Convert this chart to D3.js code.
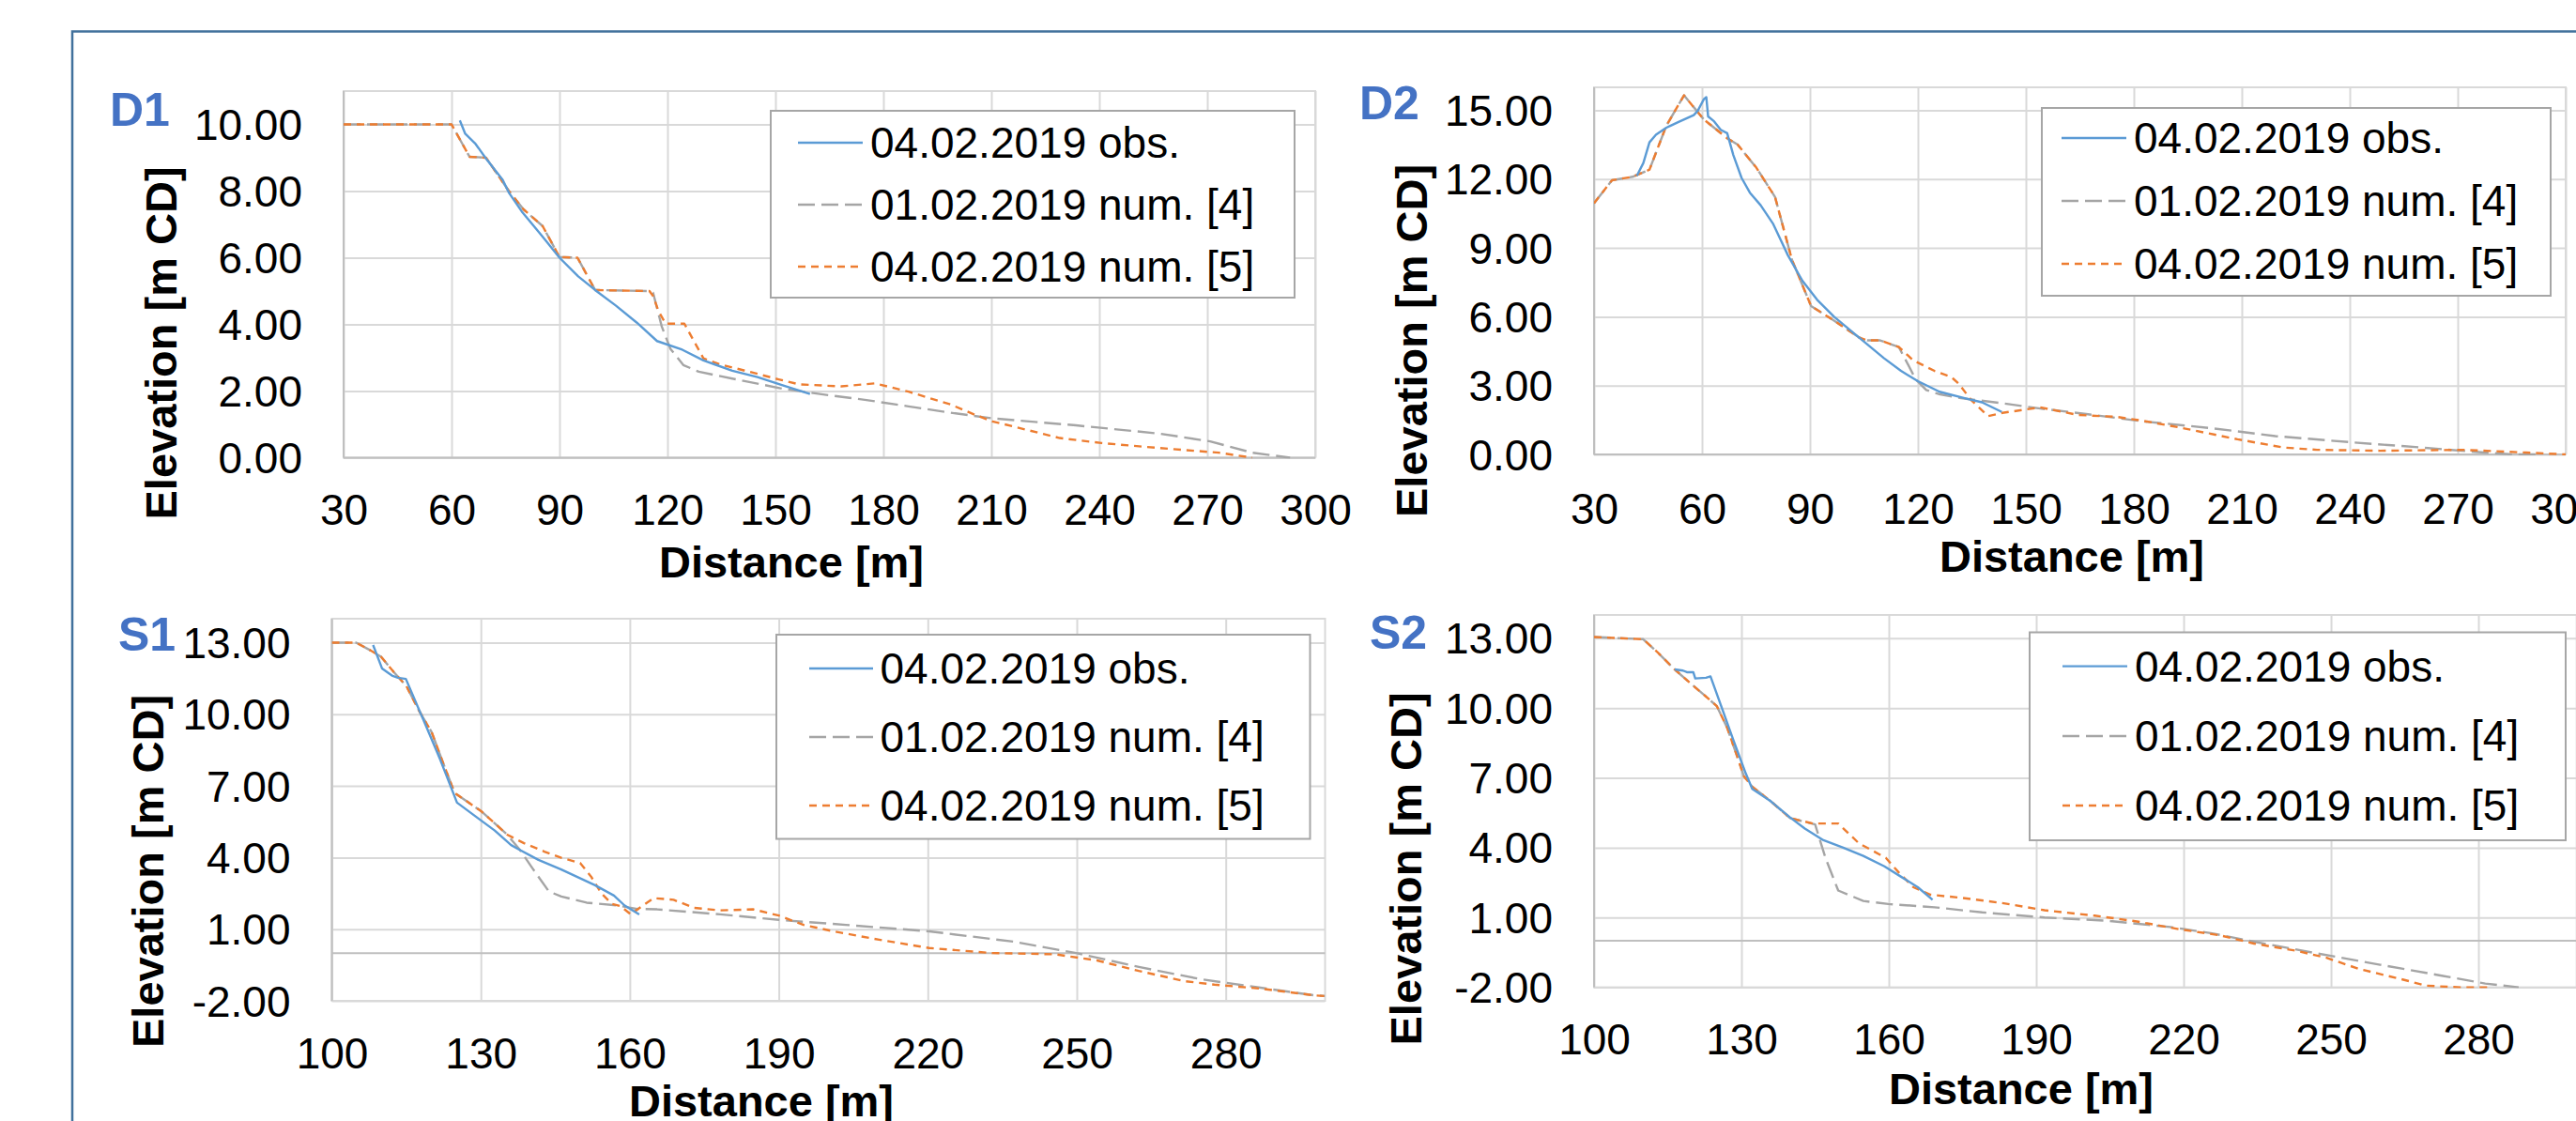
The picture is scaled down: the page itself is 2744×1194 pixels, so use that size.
<!DOCTYPE html>
<html>
<head>
<meta charset="utf-8">
<script src="https://cdn.jsdelivr.net/npm/d3@7"></script>
<style>
  body { margin: 0; background: #fff; }
  svg { display: block; font-family: Arial, 'Liberation Sans', sans-serif; }
</style>
</head>
<body>
<div id="chart"></div>
<script>
// series names (legend)
const seriesNames = ['04.02.2019 obs.', '01.02.2019 num. [4]', '04.02.2019 num. [5]']

// D1 profile  [distance m, elevation m CD]
const d1Obs = [[62.3,10.12],[63.8,9.72],[66.7,9.41],[69.6,8.97],[74.2,8.34],[76,7.94],[79.5,7.39],[84.8,6.7],[90,6.0],[95.2,5.44],[99.9,5.03],[105.7,4.56],[111.5,4.05],[117.1,3.5],[124.1,3.24],[130,2.92],[138,2.61],[145,2.42],[152,2.17],[159.6,1.91]]
const d1Num4 = [[30,10],[60,10],[65,9.03],[69.6,9.0],[75.8,8.02],[80,7.45],[85.3,6.95],[90,6.02],[95,6.0],[99.9,5.03],[115,5.0],[116,4.95],[118.4,3.94],[120.8,3.27],[124.4,2.78],[128.7,2.58],[140.4,2.32],[152,2.07],[163.7,1.89],[175.3,1.73],[187,1.54],[198.6,1.35],[210.3,1.18],[233.5,0.97],[256.9,0.72],[270.8,0.49],[282.5,0.15],[293,0]]
const d1Num5 = [[30,10],[60,10],[65,9.03],[69.6,9.0],[75.8,8.02],[80,7.45],[85.3,6.95],[90,6.02],[95,6.0],[99.9,5.03],[115,5.0],[116,4.85],[117.5,4.4],[119.5,4.02],[124.7,4.02],[130,2.98],[134.6,2.8],[142.7,2.58],[150.9,2.35],[156.6,2.2],[168.3,2.14],[177.7,2.23],[187,1.98],[198.6,1.6],[205.6,1.28],[210.3,1.09],[219.7,0.84],[229,0.59],[240.6,0.44],[252.3,0.33],[268.5,0.19],[273.2,0.15],[282.5,0]]

// D2 profile
const d2Obs = [[41.9,12.14],[43.7,12.7],[45.4,13.6],[47.2,13.93],[50.1,14.24],[53.5,14.49],[57.7,14.79],[58.8,14.97],[60.5,15.48],[61.2,15.57],[61.7,14.73],[63.4,14.51],[65.2,14.15],[67,14.0],[68.7,13.05],[71,12.05],[73.3,11.41],[76.3,10.86],[79.8,10.04],[83.9,8.67],[87.9,7.57],[92,6.74],[96.7,6.0],[103.6,5.1],[110.6,4.19],[115.3,3.64],[120,3.19],[126,2.73],[133,2.45],[137.8,2.27],[143.3,1.85]]
const d2Num4 = [[30,10.95],[35,11.95],[40.7,12.1],[45.4,12.41],[50.1,14.33],[55,15.65],[60.5,14.6],[67,13.78],[69.9,13.5],[75.1,12.5],[80.3,11.22],[85,8.48],[87.9,7.38],[90.3,6.47],[96.7,5.83],[103.6,5.1],[105.9,4.97],[109.5,4.97],[114.7,4.68],[119.4,3.27],[122.3,2.81],[125.8,2.63],[132,2.45],[143.5,2.23],[154,2.0],[166.8,1.76],[182,1.45],[201.8,1.14],[219.3,0.8],[240.3,0.53],[260,0.3],[277.5,0.08],[285.7,0],[292,0]]
const d2Num5 = [[30,10.95],[35,11.95],[40.7,12.1],[45.4,12.41],[50.1,14.33],[55,15.65],[60.5,14.6],[67,13.78],[69.9,13.5],[75.1,12.5],[80.3,11.22],[85,8.48],[87.9,7.38],[90.3,6.47],[96.7,5.83],[103.6,5.1],[105.9,4.97],[109.5,4.97],[114.7,4.68],[118.7,4.1],[124.6,3.64],[129.3,3.37],[131.3,3.09],[134.8,2.37],[139.5,1.67],[143.5,1.81],[154,2.05],[164.5,1.72],[175,1.64],[182,1.48],[192.5,1.18],[208.8,0.66],[221.6,0.3],[230.9,0.2],[248.4,0.16],[271.6,0.2],[289,0.08],[300,0]]

// S1 profile
const s1Obs = [[108.3,12.9],[110.1,11.92],[112.1,11.62],[113.3,11.53],[114.9,11.48],[118.4,9.78],[121.8,8.11],[125.2,6.3],[129.4,5.65],[132.8,5.13],[136.1,4.52],[137.4,4.37],[141.6,3.9],[146.2,3.5],[153,2.84],[156.8,2.41],[158.9,2.0],[161.9,1.62]]
const s1Num4 = [[100,13],[104.9,13],[107.8,12.67],[109.9,12.41],[112.5,11.76],[115,11.18],[117.6,10.13],[120.1,9.25],[122.6,7.85],[124.7,6.71],[130.2,5.92],[135.3,4.96],[137.8,4.34],[140.4,3.55],[143.7,2.58],[146.2,2.37],[151.3,2.11],[157.2,2.0],[161.5,1.85],[165.5,1.83],[178.2,1.62],[190,1.39],[203.5,1.18],[220.3,0.91],[237.2,0.48],[249.9,0],[262.5,-0.58],[275.1,-1.1],[287,-1.45],[297.8,-1.77],[300,-1.8]]
const s1Num5 = [[100,13],[104.9,13],[107.8,12.67],[109.9,12.41],[112.5,11.76],[115,11.18],[117.6,10.13],[120.1,9.25],[122.6,7.85],[124.7,6.71],[130.2,5.92],[135.3,4.96],[138.7,4.6],[142.8,4.25],[146.2,3.99],[150,3.77],[152.2,3.2],[154.3,2.49],[156.4,2.06],[158.1,1.97],[160.2,1.62],[161.9,1.88],[164.8,2.3],[168.8,2.23],[173,1.89],[178.2,1.79],[184.9,1.83],[190,1.57],[195,1.18],[201,0.91],[210.2,0.56],[220.3,0.21],[233,0],[245.6,-0.05],[254.1,-0.31],[262.5,-0.75],[271.8,-1.18],[277.7,-1.32],[287,-1.49],[297.8,-1.77],[300,-1.8]]

// S2 profile
const s2Obs = [[116.4,11.66],[118.1,11.61],[118.9,11.54],[120.2,11.54],[120.6,11.27],[122.8,11.3],[123.7,11.36],[125.8,10.13],[128.4,8.6],[130.9,7.18],[132.2,6.53],[136,5.99],[139.9,5.3],[142.9,4.82],[146.7,4.32],[150.6,4.01],[154.8,3.65],[159.1,3.2],[162.5,2.75],[165.9,2.3],[168.9,1.76]]
const s2Num4 = [[100,13.05],[110,12.96],[113,12.38],[116.4,11.66],[119.8,11.03],[122.8,10.49],[125,10.08],[127.1,9.15],[129.2,7.88],[130.5,7.07],[132.2,6.62],[136,5.99],[139.9,5.27],[145,5.0],[147.1,3.56],[149.7,2.16],[154.8,1.71],[159.9,1.58],[169.3,1.44],[179,1.22],[191.7,1.0],[204.5,0.86],[217.3,0.59],[225.8,0.32],[234.3,-0.04],[247.1,-0.54],[260,-1.03],[272.8,-1.51],[281.4,-1.84],[288.2,-2.0]]
const s2Num5 = [[100,13.05],[110,12.96],[113,12.38],[116.4,11.66],[119.8,11.03],[122.8,10.49],[125,10.08],[127.1,9.15],[129.2,7.88],[130.5,7.07],[132.2,6.62],[136,5.99],[139.9,5.27],[144.5,5.04],[149.7,5.04],[153.9,4.19],[159.4,3.56],[162,2.94],[165,2.3],[168.4,1.98],[174.6,1.85],[183.1,1.62],[191.7,1.31],[201.9,1.08],[210.5,0.83],[219,0.5],[227.5,0.23],[234.3,-0.12],[242.9,-0.43],[248.9,-0.72],[255.7,-1.21],[264.3,-1.65],[269.4,-1.93],[276.3,-2.0],[282,-2.0]]

// axis ticks
const dXTicks = [30, 60, 90, 120, 150, 180, 210, 240, 270, 300]
const sXTicks = [100, 130, 160, 190, 220, 250, 280]
const d1YTicks = [0, 2, 4, 6, 8, 10]
const d2YTicks = [0, 3, 6, 9, 12, 15]
const sYTicks = [-2, 1, 4, 7, 10, 13]

const WIDTH = 2744
const HEIGHT = 1194

const COLORS = ['#5B9BD5', '#A5A5A5', '#ED7D31']
const DASHES = [null, '18,7', '8,6']

// layout of each sub chart (pixels)
const panels = [
  { tag: 'D1', series: [d1Obs, d1Num4, d1Num5], xDom: [30, 300], yDom: [0, 11], xTicks: dXTicks, yTicks: d1YTicks,
    box: [366, 97, 1401, 487.5], tagPos: [117, 134], xTitle: [843, 615], yTitle: [187.5, 365.5], xLab: 559,
    legend: { x: 821, y: 118, w: 558, h: 199, rows: [152, 218, 284], s0: 850, s1: 919, t: 927 } },
  { tag: 'D2', series: [d2Obs, d2Num4, d2Num5], xDom: [30, 300], yDom: [0, 16], xTicks: dXTicks, yTicks: d2YTicks,
    box: [1698, 93, 2733, 484], tagPos: [1448, 127], xTitle: [2207, 609], yTitle: [1519.5, 363], xLab: 558,
    legend: { x: 2175, y: 115, w: 542, h: 200, rows: [147, 214, 281], s0: 2196, s1: 2265, t: 2273 } },
  { tag: 'S1', series: [s1Obs, s1Num4, s1Num5], xDom: [100, 300], yDom: [-2, 14], xTicks: sXTicks, yTicks: sYTicks,
    box: [353.5, 659, 1411.5, 1066], tagPos: [126, 693], xTitle: [811, 1189], yTitle: [174, 928], xLab: 1138,
    legend: { x: 827, y: 676, w: 568.5, h: 217.5, rows: [712, 785, 858], s0: 862, s1: 930, t: 937.5 } },
  { tag: 'S2', series: [s2Obs, s2Num4, s2Num5], xDom: [100, 300], yDom: [-2, 14], xTicks: sXTicks, yTicks: sYTicks,
    box: [1698, 655, 2744.7, 1051.6], tagPos: [1459, 691], xTitle: [2153, 1176], yTitle: [1514, 925.5], xLab: 1123.5,
    legend: { x: 2162, y: 673.5, w: 571, h: 221.5, rows: [709.6, 784, 858], s0: 2197, s1: 2266, t: 2274 } }
]

// plain hyphen for negatives, like the original
const fmtY = d => d.toFixed(2)

const svg = d3.select('#chart').append('svg')
  .attr('width', WIDTH)
  .attr('height', HEIGHT)

svg.append('rect').attr('width', WIDTH).attr('height', HEIGHT).attr('fill', '#fff')

// outer frame
svg.append('rect')
  .attr('x', 77).attr('y', 33.5)
  .attr('width', WIDTH + 40).attr('height', HEIGHT + 40)
  .attr('fill', 'none')
  .attr('stroke', '#41719C')
  .attr('stroke-width', 2.5)

const drawPanel = (p, idx) => {
  const [x0, y0, x1, y1] = p.box
  const x = d3.scaleLinear().domain(p.xDom).range([x0, x1])
  const y = d3.scaleLinear().domain(p.yDom).range([y1, y0])
  const g = svg.append('g')

  // gridlines
  g.append('g')
    .attr('transform', `translate(0, ${y1})`)
    .call(d3.axisBottom(x).tickValues(p.xTicks).tickSize(-(y1 - y0)).tickFormat(''))
    .call(a => a.select('.domain').remove())
    .call(a => a.selectAll('line').attr('stroke', '#D9D9D9').attr('stroke-width', 2))
  g.append('g')
    .attr('transform', `translate(${x0}, 0)`)
    .call(d3.axisLeft(y).tickValues(p.yTicks).tickSize(-(x1 - x0)).tickFormat(''))
    .call(a => a.select('.domain').remove())
    .call(a => a.selectAll('line').attr('stroke', '#D9D9D9').attr('stroke-width', 2))

  // plot border
  g.append('rect')
    .attr('x', x0).attr('y', y0).attr('width', x1 - x0).attr('height', y1 - y0)
    .attr('fill', 'none').attr('stroke', '#D9D9D9').attr('stroke-width', 2)

  // axis lines (value axis at left, category axis crossing at 0)
  g.append('line')
    .attr('x1', x0).attr('x2', x0).attr('y1', y0).attr('y2', y1)
    .attr('stroke', '#BFBFBF').attr('stroke-width', 2)
  g.append('line')
    .attr('x1', x0).attr('x2', x1).attr('y1', y(0)).attr('y2', y(0))
    .attr('stroke', '#BFBFBF').attr('stroke-width', 2)

  // tick labels
  g.append('g')
    .attr('transform', `translate(0, ${y1})`)
    .call(d3.axisBottom(x).tickValues(p.xTicks).tickSize(0).tickFormat(d3.format('d')))
    .call(a => a.select('.domain').remove())
    .call(a => a.selectAll('text')
      .attr('y', p.xLab - y1).attr('dy', null)
      .attr('font-size', 46).attr('fill', '#000')
      .attr('font-family', 'Arial, Liberation Sans, sans-serif'))
  g.append('g')
    .attr('transform', `translate(${x0}, 0)`)
    .call(d3.axisLeft(y).tickValues(p.yTicks).tickSize(0).tickPadding(44).tickFormat(fmtY))
    .call(a => a.select('.domain').remove())
    .call(a => a.selectAll('text')
      .attr('dy', '0.35em')
      .attr('font-size', 46).attr('fill', '#000')
      .attr('font-family', 'Arial, Liberation Sans, sans-serif'))

  // axis titles
  g.append('text')
    .attr('x', p.xTitle[0]).attr('y', p.xTitle[1])
    .attr('text-anchor', 'middle')
    .attr('font-size', 47).attr('font-weight', 'bold')
    .text('Distance [m]')
  g.append('text')
    .attr('transform', `translate(${p.yTitle[0]}, ${p.yTitle[1]}) rotate(-90)`)
    .attr('text-anchor', 'middle')
    .attr('font-size', 47).attr('font-weight', 'bold')
    .text('Elevation [m CD]')

  // panel tag
  g.append('text')
    .attr('x', p.tagPos[0]).attr('y', p.tagPos[1])
    .attr('font-size', 50).attr('font-weight', 'bold')
    .attr('fill', '#4472C4')
    .text(p.tag)

  // series
  const clipId = `clip-${idx}`
  g.append('clipPath').attr('id', clipId)
    .append('rect').attr('x', x0).attr('y', y0 - 2).attr('width', x1 - x0).attr('height', y1 - y0 + 3)

  const line = d3.line().x(d => x(d[0])).y(d => y(d[1]))
  const order = [1, 2, 0]
  order.forEach(k => {
    g.append('path')
      .datum(p.series[k])
      .attr('clip-path', `url(#${clipId})`)
      .attr('d', line)
      .attr('fill', 'none')
      .attr('stroke', COLORS[k])
      .attr('stroke-width', 2.4)
      .attr('stroke-dasharray', DASHES[k])
      .attr('stroke-linejoin', 'round')
  })

  // legend
  const L = p.legend
  const lg = g.append('g')
  lg.append('rect')
    .attr('x', L.x).attr('y', L.y).attr('width', L.w).attr('height', L.h)
    .attr('fill', '#fff').attr('stroke', '#A6A6A6').attr('stroke-width', 2)
  seriesNames.forEach((name, k) => {
    lg.append('line')
      .attr('x1', L.s0).attr('x2', L.s1).attr('y1', L.rows[k]).attr('y2', L.rows[k])
      .attr('stroke', COLORS[k]).attr('stroke-width', 2.4)
      .attr('stroke-dasharray', DASHES[k])
    lg.append('text')
      .attr('x', L.t).attr('y', L.rows[k]).attr('dy', '0.35em')
      .attr('font-size', 46)
      .text(name)
  })
}

panels.forEach(drawPanel)
</script>
</body>
</html>
